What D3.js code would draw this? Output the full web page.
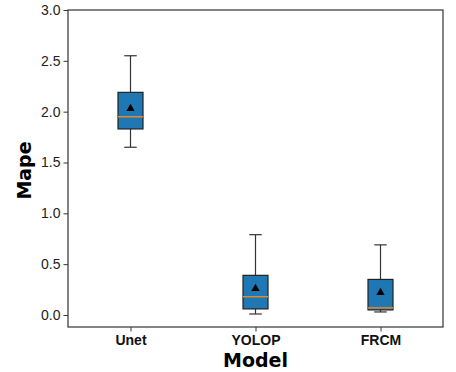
<!DOCTYPE html>
<html>
<head>
<meta charset="utf-8">
<script src="https://cdn.jsdelivr.net/npm/d3@7"></script>
<style>
  body { margin: 0; background: #fff; }
  svg { display: block; font-family: "DejaVu Sans", sans-serif; }
</style>
</head>
<body>
<svg id="chart" width="456" height="372"></svg>
<script>
// box stats
var models = ["Unet", "YOLOP", "FRCM"];
var whiskerLow = [1.65, 0.01, 0.03];
var q1 = [1.83, 0.06, 0.05];
var median = [1.95, 0.18, 0.07];
var q3 = [2.19, 0.39, 0.35];
var whiskerHigh = [2.55, 0.79, 0.69];
var means = [2.03, 0.26, 0.22];
var yTicks = [0.0, 0.5, 1.0, 1.5, 2.0, 2.5, 3.0];

var svg = d3.select("#chart"),
    margin = {left: 68, top: 10, right: 13, bottom: 45},
    width = 456 - margin.left - margin.right,
    height = 372 - margin.top - margin.bottom;

var g = svg.append("g").attr("transform", "translate(" + margin.left + "," + margin.top + ")");

var x = d3.scaleLinear().domain([0.5, 3.5]).range([0, width]);
var y = d3.scaleLinear().domain([-0.118, 3.0]).range([height, 0]);
var boxW = x(1.2) - x(1);
var capW = boxW / 2;

var boxes = models.map(function(m, i) {
    return {name: m, pos: i + 1, lo: whiskerLow[i], q1: q1[i], med: median[i],
            q3: q3[i], hi: whiskerHigh[i], mean: means[i]};
});

// y axis
var yAxis = g.append("g")
    .call(d3.axisLeft(y).tickValues(yTicks).tickFormat(d3.format(".1f")).tickSize(4.5).tickPadding(3));
yAxis.select(".domain").remove();
yAxis.selectAll("text").style("font-size", "14px").attr("fill", "#222");
yAxis.selectAll("line").attr("stroke", "#333");

// x axis
var xAxis = g.append("g")
    .attr("transform", "translate(0," + height + ")")
    .call(d3.axisBottom(x).tickValues([1, 2, 3]).tickFormat(function(d) { return models[d - 1]; }).tickSize(4.5).tickPadding(4));
xAxis.select(".domain").remove();
xAxis.selectAll("text").style("font-size", "14px").style("font-weight", "bold").attr("fill", "#111");
xAxis.selectAll("line").attr("stroke", "#333");

var box = g.selectAll(".box").data(boxes).enter().append("g").attr("class", "box");

// whiskers
box.append("line")
    .attr("x1", function(d) { return x(d.pos); }).attr("x2", function(d) { return x(d.pos); })
    .attr("y1", function(d) { return y(d.q3); }).attr("y2", function(d) { return y(d.hi); })
    .attr("stroke", "#333").attr("stroke-width", 1.2);
box.append("line")
    .attr("x1", function(d) { return x(d.pos); }).attr("x2", function(d) { return x(d.pos); })
    .attr("y1", function(d) { return y(d.q1); }).attr("y2", function(d) { return y(d.lo); })
    .attr("stroke", "#333").attr("stroke-width", 1.2);
// caps
["hi", "lo"].forEach(function(k) {
    box.append("line")
        .attr("x1", function(d) { return x(d.pos) - capW / 2; })
        .attr("x2", function(d) { return x(d.pos) + capW / 2; })
        .attr("y1", function(d) { return y(d[k]); }).attr("y2", function(d) { return y(d[k]); })
        .attr("stroke", "#333").attr("stroke-width", 1.2);
});

box.append("rect")
    .attr("x", function(d) { return x(d.pos) - boxW / 2; })
    .attr("y", function(d) { return y(d.q3); })
    .attr("width", boxW)
    .attr("height", function(d) { return y(d.q1) - y(d.q3); })
    .attr("fill", "#1f77b4").attr("stroke", "#222").attr("stroke-width", 1.2);

box.append("line")
    .attr("x1", function(d) { return x(d.pos) - boxW / 2; })
    .attr("x2", function(d) { return x(d.pos) + boxW / 2; })
    .attr("y1", function(d) { return y(d.med); }).attr("y2", function(d) { return y(d.med); })
    .attr("stroke", "#e08a2e").attr("stroke-width", 1.5);

box.append("path")
    .attr("d", d3.symbol().type(d3.symbolTriangle).size(30))
    .attr("transform", function(d) { return "translate(" + x(d.pos) + "," + y(d.mean) + ")"; })
    .attr("fill", "#000");

// frame
g.append("rect").attr("width", width).attr("height", height)
    .attr("fill", "none").attr("stroke", "#333").attr("stroke-width", 1.2);

// axis titles
svg.append("text")
    .attr("transform", "translate(31," + (margin.top + height / 2 + 2) + ") rotate(-90)")
    .attr("text-anchor", "middle")
    .style("font-size", "19px").style("font-weight", "bold")
    .text("Mape");
svg.append("text")
    .attr("x", margin.left + width / 2).attr("y", 367)
    .attr("text-anchor", "middle")
    .style("font-size", "19px").style("font-weight", "bold")
    .text("Model");
</script>
</body>
</html>
